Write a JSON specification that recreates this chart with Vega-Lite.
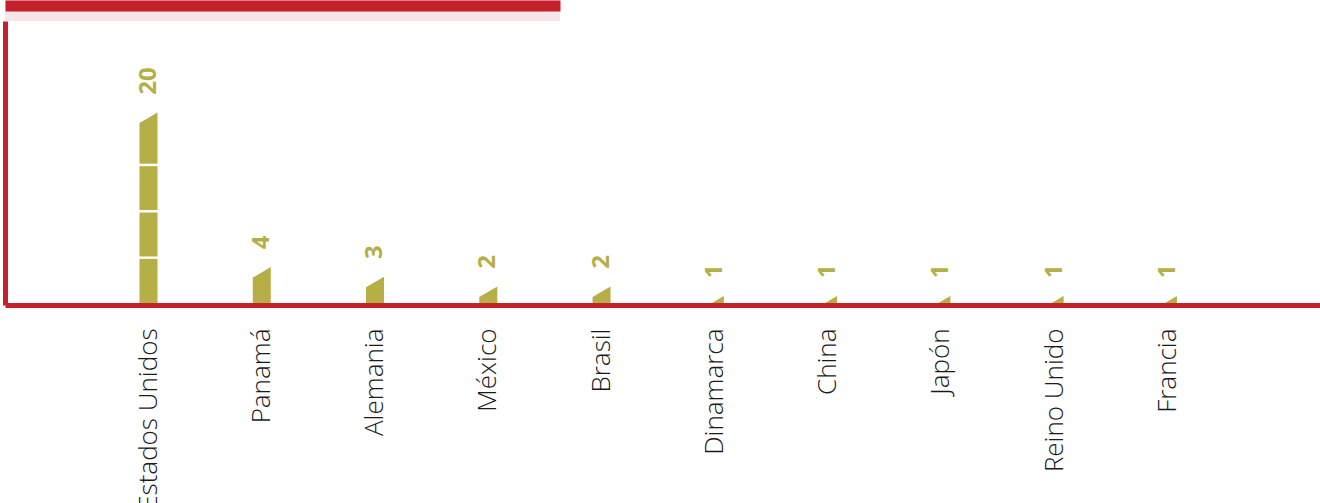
{
  "$schema": "https://vega.github.io/schema/vega-lite/v6.json",
  "padding": {"left": 5, "top": 0, "right": 0, "bottom": 0},
  "spacing": 0,
  "background": "white",
  "config": {"view": {"stroke": null}},
  "datasets": {
    "paises": [
      {"pais": "Estados Unidos", "valor": 20},
      {"pais": "Panamá", "valor": 4},
      {"pais": "Alemania", "valor": 3},
      {"pais": "México", "valor": 2},
      {"pais": "Brasil", "valor": 2},
      {"pais": "Dinamarca", "valor": 1},
      {"pais": "China", "valor": 1},
      {"pais": "Japón", "valor": 1},
      {"pais": "Reino Unido", "valor": 1},
      {"pais": "Francia", "valor": 1}
    ],
    "nudos": [
      {"pais": "Estados Unidos", "nivel": 4.9},
      {"pais": "Estados Unidos", "nivel": 9.7},
      {"pais": "Estados Unidos", "nivel": 14.5}
    ],
    "banda": [{"k": "a"}]
  },
  "vconcat": [
    {
      "width": 555,
      "height": 21,
      "view": {"fill": "#f7e6e7", "stroke": null},
      "data": {"name": "banda"},
      "mark": {"type": "point", "opacity": 0},
      "encoding": {
        "x": {
          "field": "k",
          "type": "nominal",
          "axis": {
            "orient": "top",
            "labels": false,
            "ticks": false,
            "title": null,
            "domainColor": "#c4212c",
            "domainWidth": 11,
            "offset": -5.5
          }
        }
      }
    },
    {
      "width": 1315,
      "height": 284,
      "data": {"name": "paises"},
      "encoding": {
        "x": {
          "field": "pais",
          "type": "nominal",
          "sort": null,
          "scale": {"paddingInner": 0.39, "paddingOuter": 1, "align": 0.481},
          "axis": {
            "title": null,
            "ticks": false,
            "labelAngle": -90,
            "labelFont": "Open Sans",
            "labelFontWeight": 300,
            "labelFontSize": 26,
            "labelColor": "#1a1a1a",
            "labelPadding": 23,
            "labelLimit": 0,
            "domainColor": "#c4212c",
            "domainWidth": 5,
            "zindex": 1
          }
        },
        "y": {
          "field": "valor",
          "type": "quantitative",
          "scale": {"domain": [0, 29.4], "nice": false},
          "axis": {
            "title": null,
            "labels": false,
            "ticks": false,
            "grid": false,
            "domainColor": "#c4212c",
            "domainWidth": 5,
            "zindex": 1
          }
        }
      },
      "layer": [
        {"mark": {"type": "bar", "color": "#b6ae47", "width": {"band": 0.261}}},
        {
          "mark": {
            "type": "point",
            "shape": "M-1.2,-0.3 L1.2,-0.3 L1.2,-0.1 L-1.2,1.3 Z",
            "size": 400,
            "filled": true,
            "color": "white",
            "opacity": 1,
            "strokeWidth": 0
          }
        },
        {
          "data": {"name": "nudos"},
          "mark": {"type": "tick", "color": "white", "thickness": 2.5, "size": 24, "opacity": 1},
          "encoding": {
            "x": {"field": "pais", "type": "nominal", "sort": null},
            "y": {"field": "nivel", "type": "quantitative"}
          }
        },
        {
          "mark": {
            "type": "text",
            "angle": 270,
            "align": "left",
            "baseline": "middle",
            "dx": 17,
            "font": "Open Sans",
            "fontWeight": "bold",
            "fontSize": 24,
            "color": "#b6ae47"
          },
          "encoding": {"text": {"field": "valor", "type": "quantitative"}}
        }
      ]
    }
  ]
}
